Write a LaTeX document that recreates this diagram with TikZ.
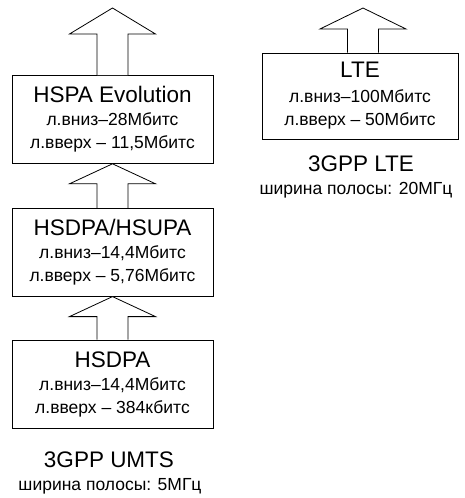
\documentclass[tikz,border=0pt]{standalone}
\usepackage{fontspec}
\setmainfont{Liberation Sans}
\usetikzlibrary{positioning,calc}

\newcommand{\titlesize}{\fontsize{22.5}{26}\selectfont}
\newcommand{\blockarrow}[3]{%
  \draw[arrowbody] let \p1 = (#1), \p2 = (#2) in
    (\x1-15.5pt,\y2) -- (\x1-15.5pt,\y1-#3) -- (\x1-43pt,\y1-#3) -- (\x1,\y1)
    -- (\x1+43pt,\y1-#3) -- (\x1+15.5pt,\y1-#3) -- (\x1+15.5pt,\y2);}

\tikzset{
  stdbox/.style = {draw, fill=white, line width=0.8pt, minimum width=201pt,
    minimum height=88pt, align=center, inner sep=0pt,
    font=\fontsize{17.5}{23}\selectfont},
  arrowbody/.style = {draw, fill=white, line width=0.8pt},
  caption/.style = {inner sep=0pt, font=\fontsize{17.5}{20}\selectfont}
}

\begin{document}
\begin{tikzpicture}[x=1pt, y=-1pt]
\useasboundingbox (0,0) rectangle (464,498);

% UMTS column
\node [stdbox] (hsdpa) at (112.5,384)
  {{\titlesize HSDPA}\\[0pt] л.вниз–14,4Мбитс\\ л.вверх – 384кбитс};
\node [stdbox, above=43pt of hsdpa] (hsupa)
  {{\titlesize HSDPA/HSUPA}\\[0pt] л.вниз–14,4Мбитс\\ л.вверх – 5,76Мбитс};
\node [stdbox, above=44pt of hsupa] (evo)
  {{\titlesize HSPA Evolution}\\[0pt] л.вниз–28Мбитс\\ л.вверх – 11,5Мбитс};
\coordinate (evotop) at (112.5,8);

\blockarrow{hsupa.south}{hsdpa.north}{20pt}
\blockarrow{evo.south}{hsupa.north}{20pt}
\blockarrow{evotop}{evo.north}{26pt}

\node [caption, font=\titlesize] (umts) at (109,460) {3GPP UMTS};
\node [caption] (umtsbw) at (110,486.5) {ширина полосы: 5МГц};

% LTE column
\node [stdbox, minimum width=196pt, minimum height=86pt] (lte) at (360,96)
  {{\titlesize LTE}\\[2pt] л.вниз–100Мбитс\\ л.вверх – 50Мбитс};
\coordinate (ltetop) at (363,8);
\blockarrow{ltetop}{lte.north}{21pt}

\node [caption, font=\titlesize] (ltecap) at (361,164) {3GPP LTE};
\node [caption] (ltebw) at (356,190) {ширина полосы: 20МГц};
\end{tikzpicture}
\end{document}
